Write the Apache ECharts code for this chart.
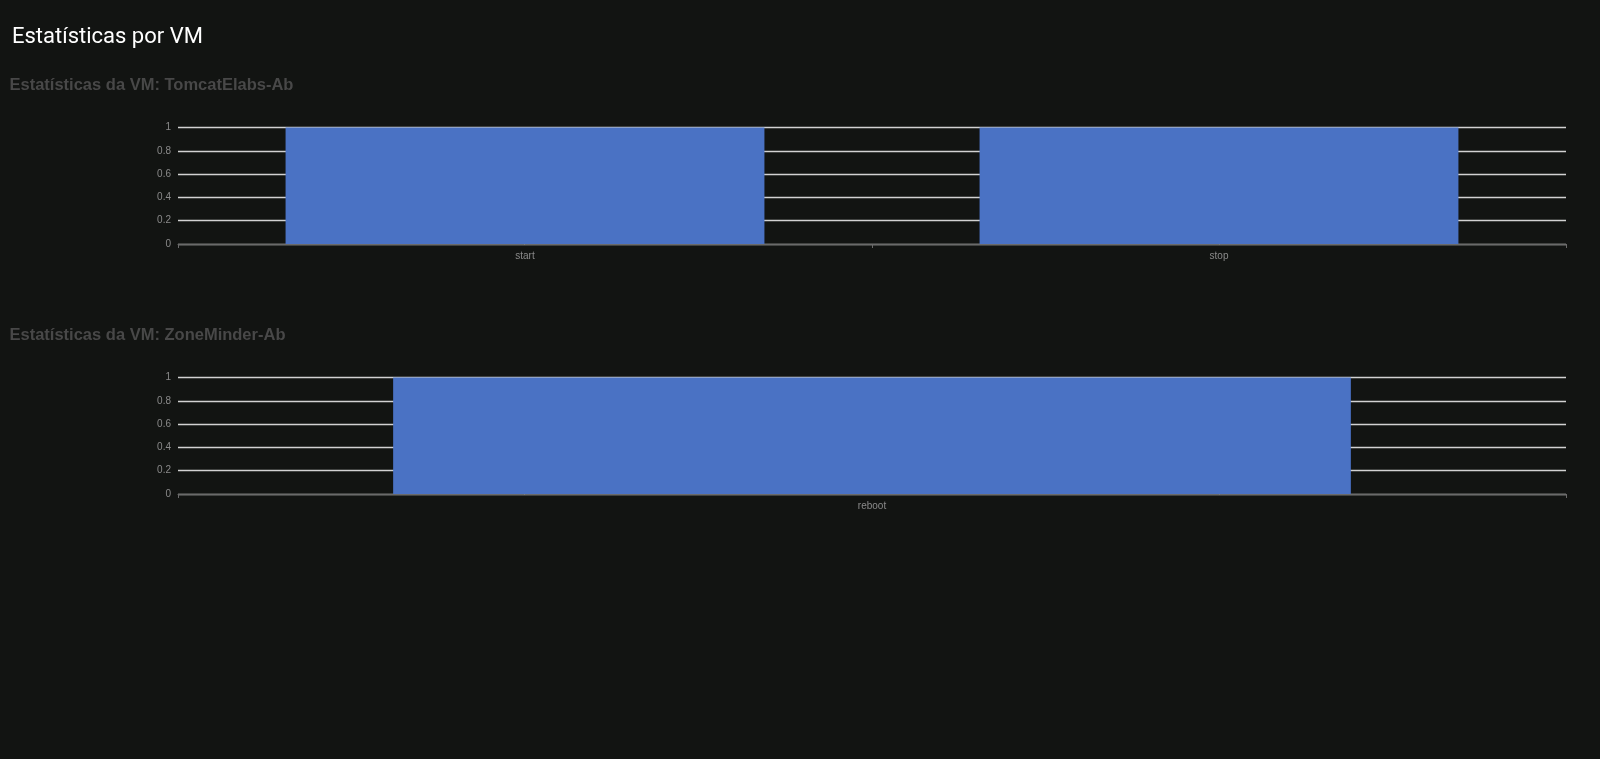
<!DOCTYPE html>
<html>
<head>
<meta charset="utf-8">
<script src="https://cdn.jsdelivr.net/npm/echarts@6/dist/echarts.min.js"></script>
<style>
html,body{margin:0;padding:0;background:#121412;}
#c{width:1600px;height:759px;}
</style>
</head>
<body>
<div id="c"></div>
<script>
const pageTitle = 'Estatísticas por VM';
const vm1Title = 'Estatísticas da VM: TomcatElabs-Ab';
const vm1Categories = ['start', 'stop'];
const vm1Values = [1, 1];
const vm2Title = 'Estatísticas da VM: ZoneMinder-Ab';
const vm2Categories = ['reboot'];
const vm2Values = [1];
const yTicks = [0, 0.2, 0.4, 0.6, 0.8, 1];

const chart = echarts.init(document.getElementById('c'), null, {renderer: 'canvas'});

function xAxis(idx, cats) {
  return {
    type: 'category', gridIndex: idx, data: cats,
    axisLine: {show: true, lineStyle: {color: '#6a6a6a', width: 1}},
    axisTick: {show: true, length: 4, lineStyle: {color: '#6a6a6a'}},
    axisLabel: {color: '#8a8a8a', fontSize: 10, fontFamily: 'Arial, Liberation Sans', margin: 7}
  };
}
function yAxis(idx) {
  return {
    type: 'value', gridIndex: idx, min: yTicks[0], max: yTicks[yTicks.length - 1], interval: yTicks[1] - yTicks[0],
    axisLine: {show: false}, axisTick: {show: false},
    axisLabel: {color: '#8a8a8a', fontSize: 10, fontFamily: 'Arial, Liberation Sans', margin: 7},
    splitLine: {show: true, lineStyle: {color: '#d2d2d2', width: 1.3}}
  };
}

chart.setOption({
  backgroundColor: '#121412',
  animation: false,
  title: [
    {text: pageTitle, left: 12, top: 26, padding: 0, textStyle: {color: '#ffffff', fontSize: 22, fontWeight: 'normal', fontFamily: 'Roboto'}},
    {text: vm1Title, left: 9.5, top: 77, padding: 0, textStyle: {color: '#484848', fontSize: 16.5, fontWeight: 'bold', fontFamily: 'Arial, Liberation Sans'}},
    {text: vm2Title, left: 9.5, top: 327, padding: 0, textStyle: {color: '#484848', fontSize: 16.5, fontWeight: 'bold', fontFamily: 'Arial, Liberation Sans'}}
  ],
  grid: [
    {left: 178, right: 34, top: 127.5, height: 116.5, containLabel: false},
    {left: 178, right: 34, top: 377.5, height: 116.5, containLabel: false}
  ],
  xAxis: [xAxis(0, vm1Categories), xAxis(1, vm2Categories)],
  yAxis: [yAxis(0), yAxis(1)],
  series: [
    {type: 'bar', xAxisIndex: 0, yAxisIndex: 0, data: vm1Values, barWidth: '69%', itemStyle: {color: '#4a72c4'}},
    {type: 'bar', xAxisIndex: 1, yAxisIndex: 1, data: vm2Values, barWidth: '69%', itemStyle: {color: '#4a72c4'}}
  ]
});
</script>
</body>
</html>
